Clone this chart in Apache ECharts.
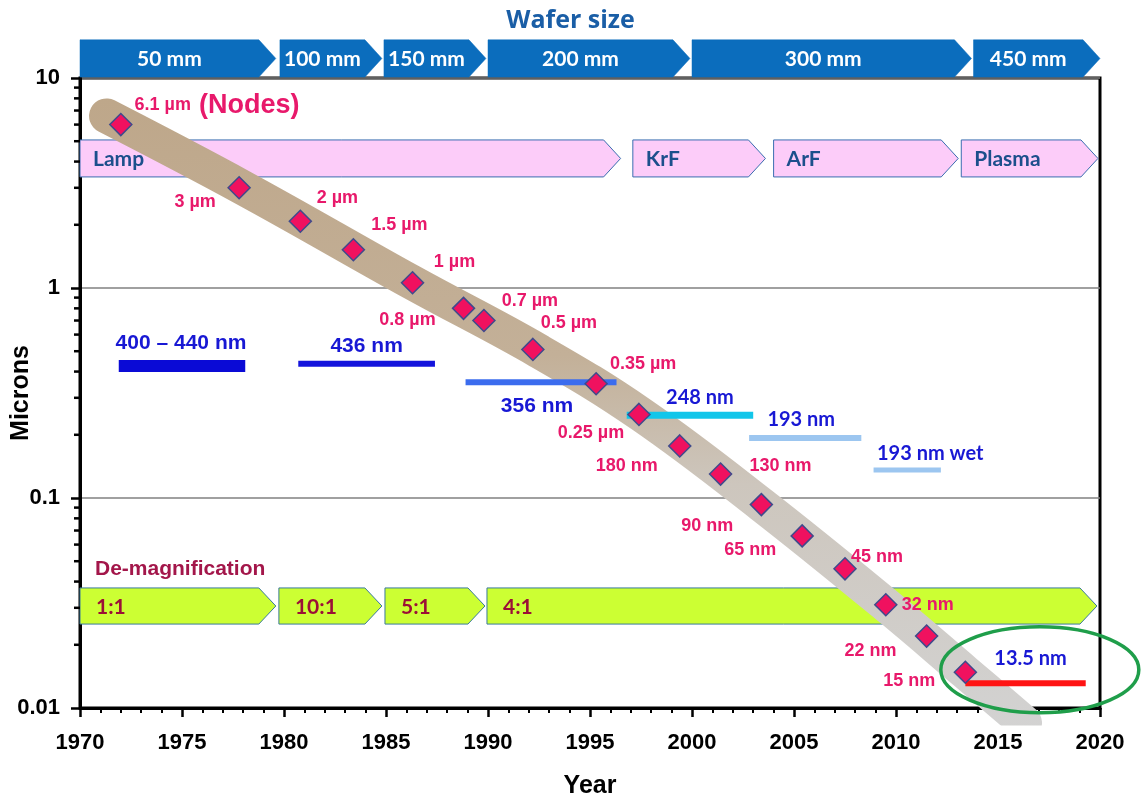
<!DOCTYPE html>
<html>
<head>
<meta charset="utf-8">
<script src="https://cdn.jsdelivr.net/npm/echarts@6/dist/echarts.min.js"></script>
<style>
  html, body { margin: 0; background: #fff; }
  #main { width: 1141px; height: 802px; }
</style>
</head>
<body>
<div id="main"></div>
<script>
// technology nodes (year, feature size in microns)
var nodeYears = [1972, 1977.8, 1980.8, 1983.4, 1986.3, 1988.8, 1989.8, 1992.2, 1995.3, 1997.4, 1999.4, 2001.4, 2003.4, 2005.4, 2007.5, 2009.5, 2011.5, 2013.4];
var nodeValues = [6.0, 3.0, 2.08, 1.52, 1.06, 0.8, 0.7, 0.51, 0.35, 0.25, 0.177, 0.13, 0.093, 0.066, 0.046, 0.031, 0.022, 0.0148];
var nodeLabels = ['6.1 µm', '3 µm', '2 µm', '1.5 µm', '1 µm', '0.8 µm', '0.7 µm', '0.5 µm', '0.35 µm', '0.25 µm', '180 nm', '130 nm', '90 nm', '65 nm', '45 nm', '32 nm', '22 nm', '15 nm'];

// trend band centre line
var bandYears = [1971.3, 1978, 1986.3, 1992.5, 1997.5, 2003.4, 2009.5, 2013.4, 2016.3];
var bandValues = [6.6, 3.0, 1.06, 0.5, 0.25, 0.093, 0.031, 0.0148, 0.0085];

// exposure wavelengths
var wlNames = ['400 – 440 nm', '436 nm', '356 nm', '248 nm', '193 nm', '193 nm wet', '13.5 nm'];
var wlStart = [1971.9, 1980.7, 1988.9, 1996.8, 2002.8, 2008.9, 2013.4];
var wlEnd = [1978.1, 1987.4, 1996.3, 2003.0, 2008.3, 2012.2, 2019.3];
var wlValue = [0.425, 0.436, 0.356, 0.248, 0.193, 0.136, 0.0131];

// wafer sizes
var waferNames = ['50 mm', '100 mm', '150 mm', '200 mm', '300 mm', '450 mm'];
var waferStart = [1970, 1979.8, 1984.9, 1990.0, 2000.0, 2013.8];
var waferEnd = [1979.6, 1984.8, 1989.9, 1999.9, 2013.7, 2020.0];

// light sources
var lightNames = ['Lamp', 'KrF', 'ArF', 'Plasma'];
var lightStart = [1970, 1997.1, 2004.0, 2013.2];
var lightEnd = [1996.5, 2003.6, 2013.05, 2019.9];

// de-magnification
var demagNames = ['1:1', '10:1', '5:1', '4:1'];
var demagStart = [1970, 1979.75, 1984.95, 1989.95];
var demagEnd = [1979.6, 1984.8, 1989.85, 2019.85];

// y axis minor tick values
var minorTickVals = [0.02, 0.03, 0.04, 0.05, 0.06, 0.07, 0.08, 0.09, 0.2, 0.3, 0.4, 0.5, 0.6, 0.7, 0.8, 0.9, 2, 3, 4, 5, 6, 7, 8, 9];

// styles / label placement (pixels)
var nodeLabelOffsets = [[42, -20], [-44, 14], [37, -23], [46, -25], [42, -21], [-56, 12], [46, -19], [36, -26], [47, -20], [-48, 19], [-53, 20], [60, -8], [-54, 21], [-52, 14], [32, -12], [42, 0], [-56, 15], [-56, 9]];
var wlColors = ['#0a0ad6', '#1414dc', '#3b6cee', '#12c6ea', '#9cc6f0', '#9cc6f0', '#ff1414'];
var wlWidths = [12, 6, 6, 7, 6, 5, 6];
var wlLabelOffsets = [[-1, -23], [0, -18], [-4, 24], [10, -18], [-4, -18], [23, -16], [5, -25]];
var wlFonts = ['bold 21px "Liberation Sans"', 'bold 21px "Liberation Sans"', 'bold 21px "Liberation Sans"', 'bold 20px Lato', 'bold 20px Lato', 'bold 20px Lato', 'bold 20px Lato'];

var ARIAL = '"Liberation Sans", Arial, sans-serif';

function arrowSeries(name, starts, ends, labels, top, bottom, st) {
  return {
    type: 'custom',
    name: name,
    z: 1,
    silent: true,
    encode: { x: [0, 1] },
    data: starts.map(function (s, i) { return [s, ends[i], i]; }),
    renderItem: function (params, api) {
      var i = api.value(2);
      var p0 = api.coord([api.value(0), top]);
      var p1 = api.coord([api.value(1), bottom]);
      var x0 = p0[0], x1 = p1[0], yt = p0[1], yb = p1[1], ym = (yt + yb) / 2, d = st.tip;
      return {
        type: 'group',
        children: [{
          type: 'polygon',
          shape: { points: [[x0, yt], [x1 - d, yt], [x1, ym], [x1 - d, yb], [x0, yb]] },
          style: { fill: st.fill, stroke: st.stroke, lineWidth: st.lw }
        }, {
          type: 'text',
          style: {
            text: labels[i],
            x: st.center ? (x0 + x1 - d) / 2 : x0 + st.pad,
            y: ym + 1,
            align: st.center ? 'center' : 'left',
            verticalAlign: 'middle',
            fill: st.color,
            font: st.font
          }
        }]
      };
    }
  };
}

var chart = echarts.init(document.getElementById('main'));

var option = {
  animation: false,
  backgroundColor: '#fff',
  title: {
    text: 'Wafer size',
    left: 'center',
    top: 3,
    textStyle: { color: '#1a5ea6', fontFamily: 'Open Sans', fontWeight: 'bold', fontSize: 25 }
  },
  grid: {
    left: 80, right: 41, top: 78, bottom: 94,
    outerBoundsMode: 'none',
    containLabel: false,
    show: true, borderColor: '#000', borderWidth: 3, backgroundColor: 'transparent'
  },
  xAxis: {
    type: 'value',
    min: 1970, max: 2020, interval: 5,
    name: 'Year',
    nameLocation: 'middle',
    nameGap: 66,
    nameMoveOverlap: false,
    nameTextStyle: { color: '#000', fontFamily: ARIAL, fontWeight: 'bold', fontSize: 25 },
    axisLine: { lineStyle: { color: '#000', width: 3 } },
    axisTick: { length: 9, lineStyle: { color: '#000', width: 2.5 } },
    minorTick: { show: true, splitNumber: 5, length: 5, lineStyle: { color: '#000', width: 2 } },
    splitLine: { show: false },
    axisLabel: {
      color: '#000', fontFamily: ARIAL, fontWeight: 'bold', fontSize: 22, margin: 24,
      formatter: function (v) { return String(v); }
    }
  },
  yAxis: {
    type: 'log',
    logBase: 10,
    min: 0.01, max: 10,
    name: 'Microns',
    nameLocation: 'middle',
    nameGap: 46,
    nameMoveOverlap: false,
    nameRotate: 90,
    nameTextStyle: { color: '#000', fontFamily: ARIAL, fontWeight: 'bold', fontSize: 25 },
    axisLine: { lineStyle: { color: '#000', width: 3 } },
    axisTick: { length: 9, lineStyle: { color: '#000', width: 2.5 } },
    splitLine: { show: true, lineStyle: { color: '#808080', width: 1.5 } },
    axisLabel: {
      color: '#000', fontFamily: ARIAL, fontWeight: 'bold', fontSize: 22, margin: 20,
      formatter: function (v) { return String(+v.toPrecision(3)); }
    }
  },
  graphic: [{
    type: 'text', left: 199, top: 92,
    style: { text: '(Nodes)', fill: '#e8196b', font: 'bold 27px "Liberation Sans"' }
  }, {
    type: 'text', left: 95, top: 559,
    style: { text: 'De-magnification', fill: '#a3164a', font: 'bold 21px "Liberation Sans"' }
  }],
  series: [
    arrowSeries('wafer', waferStart, waferEnd, waferNames, 15.2, 10.1, {
      tip: 17, fill: '#0b6dbd', stroke: '#0b6dbd', lw: 0.5, center: true,
      color: '#fff', font: 'bold 21px Lato'
    }),
    arrowSeries('light', lightStart, lightEnd, lightNames, 5.07, 3.38, {
      tip: 17, fill: '#fcccf9', stroke: '#3a6db0', lw: 1, center: false, pad: 13,
      color: '#1c4f8c', font: 'bold 21px Lato'
    }),
    arrowSeries('demag', demagStart, demagEnd, demagNames, 0.0373, 0.0251, {
      tip: 17, fill: '#ccff33', stroke: '#3a7a9a', lw: 1, center: false, pad: 16,
      color: '#9b1037', font: 'bold 21px Lato'
    }),
    {
      type: 'line',
      name: 'band',
      z: 2,
      silent: true,
      symbol: 'none',
      smooth: 0.4,
      clip: true,
      data: bandYears.map(function (y, i) { return [y, bandValues[i]]; }),
      lineStyle: {
        width: 35,
        cap: 'round',
        join: 'round',
        color: new echarts.graphic.LinearGradient(0, 0, 0, 1, [
          { offset: 0, color: '#bea78a' },
          { offset: 0.4, color: '#c3b098' },
          { offset: 0.6, color: '#cdc6bd' },
          { offset: 1, color: '#d3d3d3' }
        ])
      }
    },
    {
      type: 'custom',
      name: 'wavelength',
      z: 3,
      silent: true,
      encode: { x: [0, 1], y: 2 },
      data: wlStart.map(function (s, i) { return [s, wlEnd[i], wlValue[i], i]; }),
      renderItem: function (params, api) {
        var i = api.value(3);
        var a = api.coord([api.value(0), api.value(2)]);
        var b = api.coord([api.value(1), api.value(2)]);
        var off = wlLabelOffsets[i];
        return {
          type: 'group',
          children: [{
            type: 'line',
            shape: { x1: a[0], y1: a[1], x2: b[0], y2: b[1] },
            style: { stroke: wlColors[i], lineWidth: wlWidths[i] }
          }, {
            type: 'text',
            style: {
              text: wlNames[i],
              x: (a[0] + b[0]) / 2 + off[0],
              y: a[1] + off[1],
              align: 'center',
              verticalAlign: 'middle',
              fill: '#1818d4',
              font: wlFonts[i]
            }
          }]
        };
      }
    },
    {
      type: 'scatter',
      name: 'nodes',
      z: 4,
      silent: true,
      symbol: 'diamond',
      symbolSize: 22,
      itemStyle: { color: '#f0115f', borderColor: '#3f4a8c', borderWidth: 1.5, opacity: 1 },
      label: {
        show: true,
        position: 'inside',
        color: '#e8196b',
        fontFamily: ARIAL,
        fontWeight: 'bold',
        fontSize: 18,
        formatter: function (p) { return nodeLabels[p.dataIndex]; }
      },
      data: nodeYears.map(function (y, i) {
        return { value: [y, nodeValues[i]], label: { offset: nodeLabelOffsets[i] } };
      })
    },
    {
      type: 'custom',
      name: 'euv-ring',
      z: 5,
      silent: true,
      data: [[2017.05, 0.0152]],
      renderItem: function (params, api) {
        var c = api.coord([api.value(0), api.value(1)]);
        return {
          type: 'ellipse',
          shape: { cx: c[0], cy: c[1], rx: 99, ry: 43 },
          style: { fill: null, stroke: '#1f9e4a', lineWidth: 3.5 }
        };
      }
    },
    {
      type: 'custom',
      name: 'yMinorTicks',
      z: 6,
      silent: true,
      data: minorTickVals.map(function (v) { return [1970, v]; }),
      renderItem: function (params, api) {
        var p = api.coord([api.value(0), api.value(1)]);
        return {
          type: 'line',
          shape: { x1: p[0] - 6, y1: p[1], x2: p[0], y2: p[1] },
          style: { stroke: '#000', lineWidth: 2.5 }
        };
      }
    }
  ]
};

chart.setOption(option);
</script>
</body>
</html>
